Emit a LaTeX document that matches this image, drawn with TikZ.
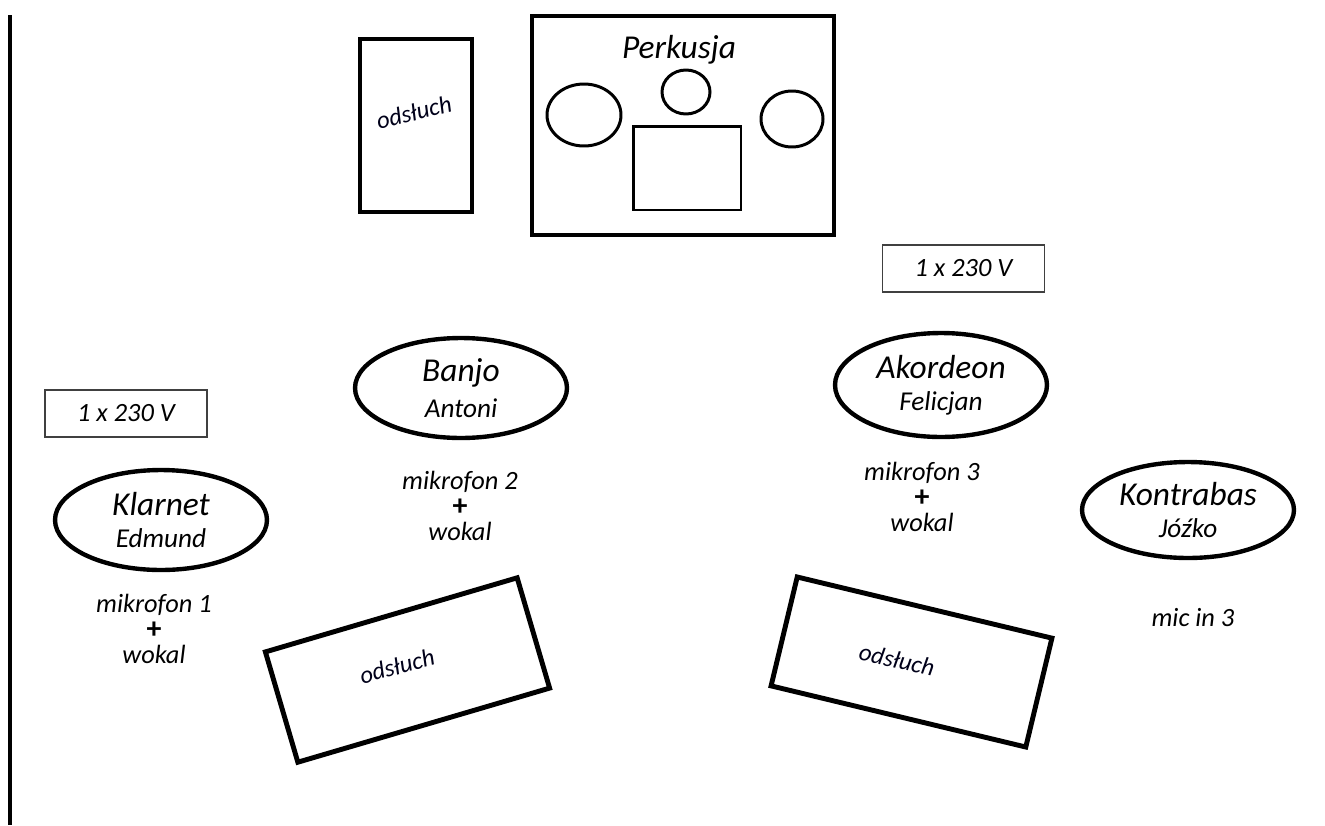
\documentclass[tikz,border=0pt]{standalone}
\usepackage{fontspec}
\setmainfont{Carlito}
\usetikzlibrary{shapes.geometric}
\tikzset{
	muzyk/.style={
		ellipse,
		draw=black, line width=2.5pt,
		inner sep=0pt,
		minimum width=4.24cm,
		minimum height=2cm,
		align=center},
	odsluch/.style={
		rectangle,
		draw=black, line width=2.8pt,
		inner sep=0pt},
	napis/.style={
		font=\itshape\fontsize{14}{16}\selectfont,
		text=black!90!blue},
	zasilanie/.style={
		rectangle,
		draw=black!75, line width=0.6pt,
		minimum width=3.24cm,
		minimum height=0.94cm,
		font=\itshape\fontsize{15}{17}\selectfont},
	beben/.style={ellipse, draw=black, line width=1.7pt, inner sep=0pt},
	mikrofon/.style={align=center, font=\itshape\fontsize{15}{14.5}\selectfont},
}
\newcommand{\imie}[2]{{\fontsize{19}{18}\selectfont #1}\\[6pt]{\fontsize{15.5}{18}\selectfont #2}}
\newcommand{\plus}{{\upshape\bfseries\fontsize{17}{14.5}\selectfont +}}

\begin{document}
\begin{tikzpicture}[x=0.02cm, y=-0.02cm, font=\itshape]
		\useasboundingbox (0,0) rectangle (1325,825);
		% krawedz sceny
		\draw[line width=2.4pt] (10,15) -- (10,825);
		% perkusja
		\node[odsluch, minimum width=6.04cm, minimum height=4.38cm] (perkusja) at (683,125.5) {};
		\node[font=\itshape\fontsize{19}{21}\selectfont] (perkusjaNapis) at (679,50) {Perkusja};
		\node[beben, minimum width=1.48cm, minimum height=1.24cm] (talerzL) at (584,115) {};
		\node[beben, minimum width=0.96cm, minimum height=0.88cm] (werbel) at (686,92) {};
		\node[beben, minimum width=1.24cm, minimum height=1.12cm] (talerzP) at (792,119) {};
		\node[rectangle, draw=black, line width=1.7pt, minimum width=2.16cm, minimum height=1.68cm] (stopa) at (687,168) {};
		% odsluchy
		\node[odsluch, minimum width=2.24cm, minimum height=3.46cm] (odsluchG) at (416,125.5) {};
		\node[napis, rotate=14] (odsluchGNapis) at (414,112) {odsłuch};
		\node[odsluch, rotate=16.4, minimum width=5.25cm, minimum height=2.3cm] (odsluchL) at (407.5,670) {};
		\node[napis, rotate=15] (odsluchLNapis) at (397,666) {odsłuch};
		\node[odsluch, rotate=-13.5, minimum width=5.24cm, minimum height=2.24cm] (odsluchP) at (911.5,662) {};
		\node[napis, rotate=-12.5] (odsluchPNapis) at (897,660) {odsłuch};
		% zasilanie
		\node[zasilanie] (pradL) at (126,413.5) {1 x 230 V};
		\node[zasilanie] (pradP) at (963.5,268.5) {1 x 230 V};
		% muzycy
		\node[muzyk] (klarnet) at (161,520) {\imie{Klarnet}{Edmund}};
		\node[muzyk] (banjo) at (461,388) {\imie{Banjo}{Antoni}};
		\node[muzyk, minimum height=2.08cm] (akordeon) at (941,385) {\imie{Akordeon}{Felicjan}};
		\node[muzyk, minimum height=1.92cm] (kontrabas) at (1188,510) {\imie{Kontrabas}{Jóźko}};
		% mikrofony
		\node[mikrofon] (mikrofon1) at (154,629) {mikrofon 1\\\plus\\wokal};
		\node[mikrofon] (mikrofon2) at (460,506) {mikrofon 2\\\plus\\wokal};
		\node[mikrofon] (mikrofon3) at (922,497) {mikrofon 3\\\plus\\wokal};
		\node[mikrofon] (micIn3) at (1193,618) {mic in 3};
\end{tikzpicture}
\end{document}
